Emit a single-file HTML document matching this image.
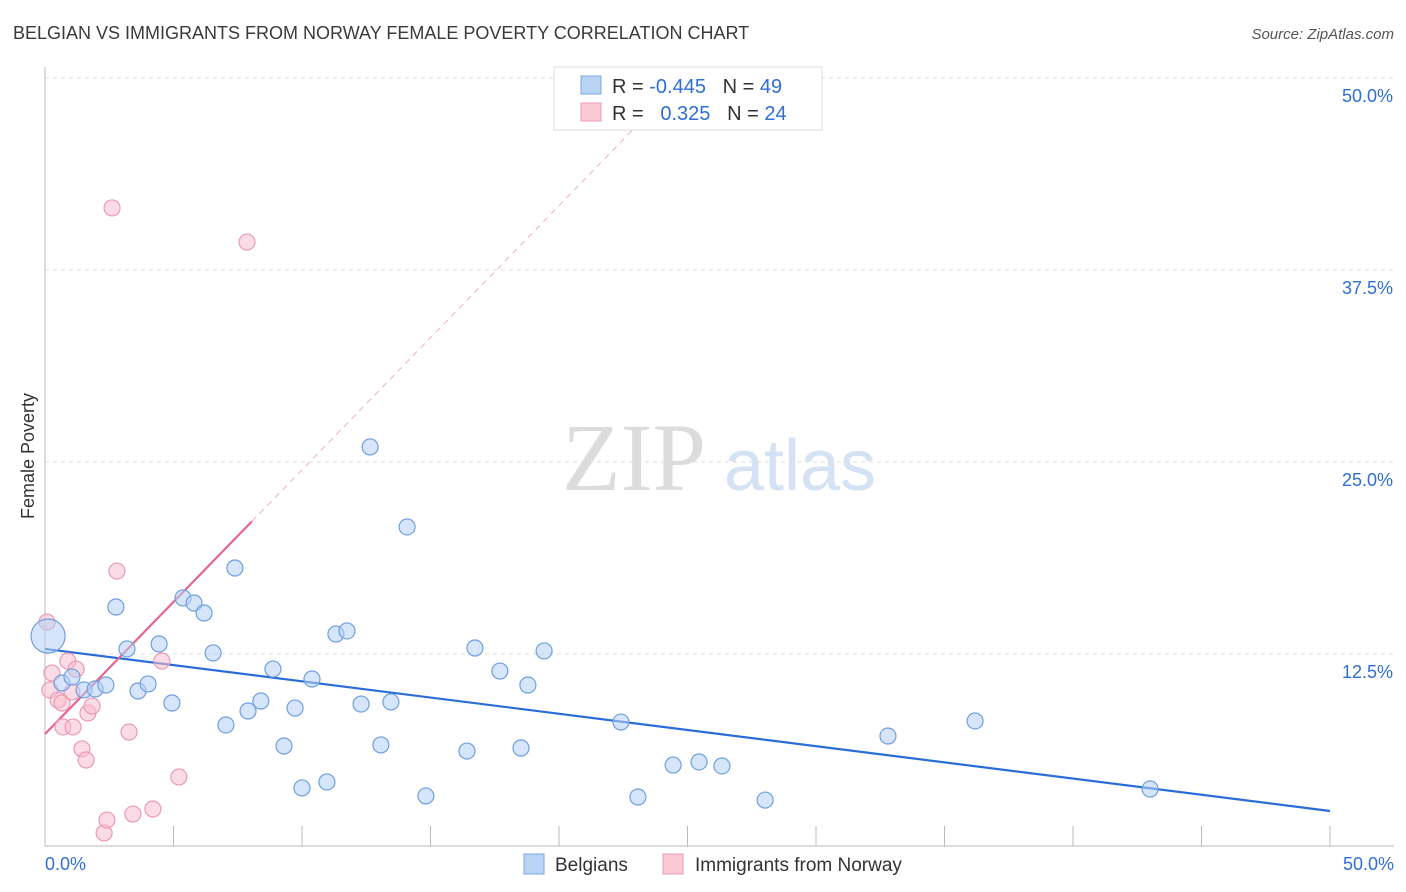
<!DOCTYPE html>
<html><head><meta charset="utf-8"><style>
body{margin:0;background:#fff;font-family:"Liberation Sans",sans-serif;}
svg{display:block}
</style></head><body>
<svg id="c" width="1406" height="892" xmlns="http://www.w3.org/2000/svg">
<text x="13" y="39" font-size="18" fill="#3a3a3a">BELGIAN VS IMMIGRANTS FROM NORWAY FEMALE POVERTY CORRELATION CHART</text>
<text x="1394" y="39" font-size="15" fill="#555" font-style="italic" text-anchor="end">Source: ZipAtlas.com</text>
<text transform="translate(34,456) rotate(-90)" font-size="18" fill="#333" text-anchor="middle">Female Poverty</text>
<g><text x="634" y="490" font-size="96" fill="#dcdcdc" text-anchor="middle" font-family="Liberation Serif,serif">ZIP</text><text x="800" y="490" font-size="72" fill="#d4e2f4" text-anchor="middle">atlas</text></g>
<g id="grid"></g><g id="trend"></g><g id="pts"></g>
<g>
<rect x="554" y="67" width="268" height="63" fill="#fff" stroke="#ddd"/>
<rect x="581" y="76" width="20" height="18" fill="#b9d3f5" stroke="#7aa7e6"/>
<rect x="581" y="103" width="20" height="18" fill="#fbc8d6" stroke="#eb9ab3"/>
<text x="612" y="93" font-size="20" fill="#333">R = <tspan fill="#2f6fd6">-0.445</tspan>&#160;&#160;&#160;N = <tspan fill="#2f6fd6">49</tspan></text>
<text x="612" y="120" font-size="20" fill="#333">R = &#160;&#160;<tspan fill="#2f6fd6">0.325</tspan>&#160;&#160;&#160;N = <tspan fill="#2f6fd6">24</tspan></text>
</g>
<g>
<rect x="524" y="854" width="20" height="20" fill="#b9d3f5" stroke="#7aa7e6"/>
<text x="555" y="871" font-size="19" fill="#333">Belgians</text>
<rect x="663" y="854" width="20" height="20" fill="#fbc8d6" stroke="#eb9ab3"/>
<text x="695" y="871" font-size="19" fill="#333">Immigrants from Norway</text>
</g>
</svg>
<script>
const yTicks=[12.5,25,37.5,50];
const yTickLabels=["12.5%","25.0%","37.5%","50.0%"];
const xTickLabels=["0.0%","50.0%"];
const blueX=[0.12,0.66,1.05,1.52,1.95,2.37,2.76,3.19,3.62,4.01,4.44,4.94,5.37,5.80,6.19,6.54,7.04,7.39,7.90,8.40,8.87,9.30,9.73,10.0,10.39,10.97,11.32,11.75,12.30,12.65,13.07,13.46,14.09,14.82,16.42,16.73,17.70,18.52,18.79,19.42,22.41,23.07,24.44,25.45,26.34,28.02,32.80,36.19,43.0];
const blueY=[13.67,10.61,11.0,10.16,10.22,10.48,15.56,12.83,10.09,10.55,13.15,9.31,16.15,15.82,15.17,12.57,7.88,18.1,8.79,9.44,11.52,6.51,8.98,3.78,10.87,4.17,13.80,14.0,9.24,25.98,6.58,9.38,20.77,3.26,6.18,12.89,11.39,6.38,10.48,12.70,8.07,3.19,5.27,5.47,5.21,2.99,7.16,8.14,3.71];
const pinkX=[0.08,0.27,0.19,0.51,0.66,0.89,0.70,1.09,1.21,1.44,1.60,1.67,1.83,1.05,2.30,2.41,2.61,2.80,3.27,3.42,4.20,4.55,5.21,7.86];
const pinkY=[14.58,11.26,10.16,9.5,9.31,12.04,7.75,7.75,11.52,6.32,5.6,8.66,9.11,10.03,0.85,1.69,41.54,17.9,7.42,2.08,2.41,12.04,4.49,39.32];
const blueTrend=[12.83,2.28];
const pinkTrend=[7.29,1.72];
const X=v=>45+v*25.7, Y=v=>846-v*15.36;
const NS="http://www.w3.org/2000/svg";
function mk(t,a,p){const e=document.createElementNS(NS,t);for(const k in a)e.setAttribute(k,a[k]);p.appendChild(e);return e;}
const g=document.getElementById('grid');
let ax=mk('line',{x1:45,y1:67,x2:45,y2:846,stroke:'#bbb'},g);


let bx=mk('line',{x1:45,y1:846,x2:1394,y2:846,stroke:'#bbb'},g);


yTicks.forEach((t,i)=>{
 const l=mk('line',{x1:45,y1:Y(t),x2:1394,y2:Y(t),stroke:'#ddd','stroke-dasharray':'4,4'},g);
 
 
 const tx=mk('text',{x:1393,y:Y(t)+24,'font-size':18,fill:'#2f6fd6','text-anchor':'end'},g);
 tx.textContent=yTickLabels[i];
 
 
});
for(let i=0;i<=10;i++){const l=mk('line',{x1:X(i*5),y1:826,x2:X(i*5),y2:846,stroke:'#bbb'},g);
 
 }
[[0,'start',45],[50,'end',1394]].forEach((d,i)=>{const t=mk('text',{x:d[2],y:870,'font-size':18,fill:'#2f6fd6','text-anchor':d[1]},g);t.textContent=xTickLabels[i];
 
 });
const tr=document.getElementById('trend');
let bl=mk('line',{x1:X(0),y1:Y(blueTrend[0]),x2:X(50),y2:Y(blueTrend[0]+blueTrend[1]*0+ (blueTrend[1]-blueTrend[0])),stroke:'#2a6dd9','stroke-width':2.2},tr);
bl.setAttribute('y2',Y(blueTrend[1]));


const pEnd=8.05, pTop=(50-pinkTrend[0])/pinkTrend[1];
let pd=mk('line',{x1:X(pEnd),y1:Y(pinkTrend[0]+pinkTrend[1]*pEnd),x2:X(pTop),y2:Y(50),stroke:'#f0b0c4','stroke-width':1,'stroke-dasharray':'6,5'},tr);


let pl=mk('line',{x1:X(0),y1:Y(pinkTrend[0]),x2:X(pEnd),y2:Y(pinkTrend[0]+pinkTrend[1]*pEnd),stroke:'#e8648f','stroke-width':2.2},tr);


const pts=document.getElementById('pts');
pinkX.forEach((x,i)=>{const c=mk('circle',{cx:X(x),cy:Y(pinkY[i]),r:8,fill:'rgba(248,190,208,0.55)',stroke:'#eb9ab3','stroke-width':1.2},pts);
 
 });
blueX.forEach((x,i)=>{const c=mk('circle',{cx:X(x),cy:Y(blueY[i]),r:i==0?17:8,fill:'rgba(180,208,245,0.55)',stroke:'#6e9fe0','stroke-width':1.2},pts);
 
 });
</script>
</body></html>
